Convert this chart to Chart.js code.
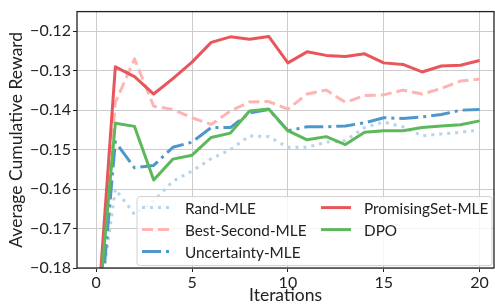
<!DOCTYPE html>
<html>
<head>
<meta charset="utf-8">
<script src="https://cdn.jsdelivr.net/npm/chart.js@4.4.0/dist/chart.umd.min.js"></script>
<style>
  html, body { margin: 0; padding: 0; background: #fff; }
  #wrap { width: 495px; height: 306px; }
</style>
</head>
<body>
<div id="wrap"><canvas id="rewardChart" width="495" height="306"></canvas></div>
<script>
const iterations = [0, 1, 2, 3, 4, 5, 6, 7, 8, 9, 10, 11, 12, 13, 14, 15, 16, 17, 18, 19, 20];

const randMle = [-0.195, -0.160, -0.1664, -0.163, -0.158, -0.1554, -0.1523, -0.150, -0.1465, -0.1467, -0.1494,
    -0.1494, -0.1481, -0.1477, -0.1444, -0.143, -0.1442, -0.1465, -0.146, -0.1456, -0.145];
const bestSecondMle = [-0.200, -0.138, -0.127, -0.139, -0.1398, -0.1419, -0.1436, -0.1402, -0.1379, -0.1378, -0.1397,
    -0.1359, -0.1349, -0.138, -0.1363, -0.1361, -0.1349, -0.1359, -0.1345, -0.1326, -0.1321];
const uncertaintyMle = [-0.203, -0.148, -0.1546, -0.154, -0.1494, -0.1481, -0.1444, -0.1444, -0.1407, -0.1398, -0.1452,
    -0.1442, -0.1442, -0.144, -0.1432, -0.1419, -0.1421, -0.1417, -0.1411, -0.140, -0.1398];
const promisingSetMle = [-0.197, -0.129, -0.1315, -0.1359, -0.132, -0.1278, -0.1228, -0.1214, -0.122, -0.1213, -0.128,
    -0.1252, -0.1261, -0.1264, -0.1257, -0.128, -0.1284, -0.1303, -0.1288, -0.1286, -0.1274];
const dpo = [-0.197, -0.1433, -0.1441, -0.1577, -0.1524, -0.1514, -0.1469, -0.1458, -0.1402, -0.1397, -0.1452,
    -0.1475, -0.1467, -0.1487, -0.1456, -0.1452, -0.1452, -0.1444, -0.144, -0.1437, -0.1427];

const seriesLabels = ['Rand-MLE', 'Best-Second-MLE', 'Uncertainty-MLE', 'PromisingSet-MLE', 'DPO'];
const seriesValues = [randMle, bestSecondMle, uncertaintyMle, promisingSetMle, dpo];
const seriesColors = ['#b4d5ec', '#ffb4b4', '#4d97cb', '#e8555a', '#5cb85a'];
const seriesDashes = [[3, 5], [11, 5], [19, 5, 3, 5], [], []];

const xTicks = [0, 5, 10, 15, 20];
const yTicks = [-0.18, -0.17, -0.16, -0.15, -0.14, -0.13, -0.12];

const FONT = 'Lato';

const frameAndLegend = {
    id: 'frameAndLegend',
    afterDatasetsDraw(chart) {
        const { ctx, chartArea: a } = chart;
        ctx.save();
        // legend box
        const bx = a.left + 60, by = a.top + 185, bw = a.right - bx - 2, bh = 69;
        ctx.beginPath();
        ctx.roundRect(bx, by, bw, bh, 3);
        ctx.fillStyle = 'rgba(255,255,255,0.8)';
        ctx.fill();
        ctx.strokeStyle = '#d0d0d0';
        ctx.lineWidth = 1;
        ctx.stroke();
        const cols = [{ x0: bx + 5, x1: bx + 33, tx: bx + 48 }, { x0: bx + 184, x1: bx + 214, tx: bx + 227 }];
        const rows = [by + 11, by + 33, by + 55];
        ctx.font = '15.3px ' + FONT;
        ctx.textBaseline = 'middle';
        ctx.fillStyle = '#222';
        seriesLabels.forEach((label, i) => {
            const c = cols[i < 3 ? 0 : 1];
            const y = rows[i < 3 ? i : i - 3];
            ctx.beginPath();
            ctx.setLineDash(seriesDashes[i]);
            ctx.strokeStyle = seriesColors[i];
            ctx.lineWidth = 3;
            ctx.moveTo(c.x0, y);
            ctx.lineTo(c.x1, y);
            ctx.stroke();
            ctx.setLineDash([]);
            ctx.fillText(label, c.tx, y + 1);
        });
        // plot frame
        ctx.strokeStyle = '#222';
        ctx.lineWidth = 1.3;
        ctx.strokeRect(a.left, a.top, a.right - a.left, a.bottom - a.top);
        ctx.restore();
    }
};

const ctx = document.getElementById('rewardChart').getContext('2d');

const rewardChart = new Chart(ctx, {
    type: 'line',
    data: {
        datasets: seriesLabels.map((label, i) => ({
            label: label,
            data: iterations.map((it, j) => ({ x: it, y: seriesValues[i][j] })),
            borderColor: seriesColors[i],
            borderDash: seriesDashes[i],
            borderWidth: 3,
            borderJoinStyle: 'round',
            pointRadius: 0,
            tension: 0,
            order: 5 - i,
        })),
    },
    options: {
        responsive: false,
        animation: false,
        layout: { padding: { top: 7, right: 1, left: 0, bottom: 0 } },
        plugins: {
            legend: { display: false },
            tooltip: { enabled: false },
        },
        scales: {
            x: {
                type: 'linear',
                min: -1,
                max: 20.75,
                afterBuildTicks: (axis) => { axis.ticks = xTicks.map(v => ({ value: v })); },
                afterFit: (axis) => { axis.height = 38; },
                grid: {
                    color: '#cccccc',
                    borderDash: [2, 2],
                    tickLength: 4,
                    tickColor: '#222',
                    tickBorderDash: [],
                },
                border: { display: false },
                ticks: {
                    color: '#222',
                    font: { family: FONT, size: 16 },
                    padding: 1,
                    maxRotation: 0,
                },
                title: {
                    display: true,
                    text: 'Iterations',
                    color: '#222',
                    font: { family: FONT, size: 17.5 },
                    padding: { top: 0, bottom: 0 },
                },
            },
            y: {
                min: -0.18,
                max: -0.115,
                afterBuildTicks: (axis) => { axis.ticks = yTicks.map(v => ({ value: v })); },
                afterFit: (axis) => { axis.width = 77; },
                grid: {
                    color: '#cccccc',
                    borderDash: [2, 2],
                    tickLength: 4,
                    tickColor: '#222',
                    tickBorderDash: [],
                },
                border: { display: false },
                ticks: {
                    color: '#222',
                    font: { family: FONT, size: 16 },
                    padding: 2,
                    callback: (v) => '\u2212' + Math.abs(v).toFixed(2),
                },
                title: {
                    display: true,
                    text: 'Average Cumulative Reward',
                    color: '#222',
                    font: { family: FONT, size: 17.5 },
                    padding: { top: 6, bottom: 0 },
                },
            },
        },
    },
    plugins: [frameAndLegend],
});
</script>
</body>
</html>
